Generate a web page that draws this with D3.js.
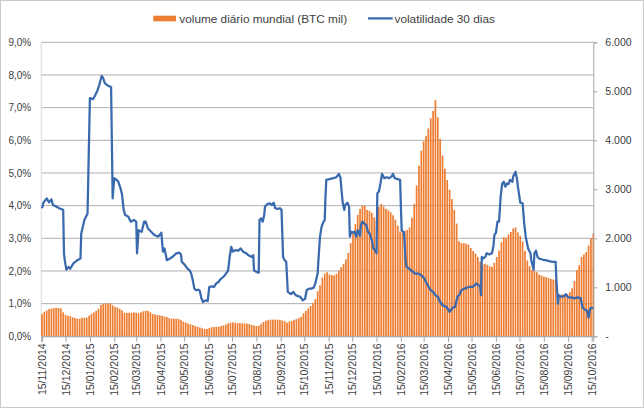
<!DOCTYPE html>
<html><head><meta charset="utf-8">
<script src="https://cdn.jsdelivr.net/npm/d3@7"></script>
<style>
body{margin:0;background:#fff}
svg{display:block}
text{font-family:"Liberation Sans",Arial,sans-serif;fill:#404040}
</style>
</head><body>
<svg id="chart" width="644" height="408"></svg>
<script>
// ---------------- data ----------------
const startDate = "15/11/2014";          // first day of the series
const volumeStepDays = 3;                 // volume sampled every 3rd day
const seriesNames = ["volume diário mundial (BTC mil)", "volatilidade 30 dias"];

// daily world volume (BTC mil), one value per 3 days from 15/11/2014
const volumeValues = [
  450,500,530,555,566,575,580,580,570,490,
  440,420,410,390,375,360,355,380,380,380,
  420,460,490,520,560,640,665,670,670,670,
  635,600,585,560,530,480,480,480,480,490,
  480,470,490,510,520,520,490,455,445,435,
  430,415,405,395,370,360,360,358,355,330,
  300,280,260,245,230,210,195,180,165,150,
  150,170,185,190,190,195,210,225,240,265,
  280,285,275,270,270,265,263,260,250,235,
  220,210,215,250,290,320,330,340,340,340,
  340,335,325,310,280,300,310,335,350,370,
  400,470,520,570,620,680,760,920,1040,1200,
  1280,1310,1260,1250,1240,1280,1340,1410,1480,1570,
  1700,1900,2090,2290,2480,2600,2670,2660,2580,2560,
  2520,2430,2360,2640,2700,2650,2600,2570,2530,2470,
  2380,2260,2140,2120,2150,2170,2220,2420,2700,3080,
  3480,3790,3980,4090,4240,4450,4600,4820,4470,4030,
  3690,3420,3190,2990,2800,2580,2300,1940,1900,1900,
  1890,1870,1800,1740,1690,1620,1520,1470,1480,1460,
  1430,1420,1500,1620,1750,1920,2020,2010,2080,2130,
  2200,2220,2120,2050,1930,1740,1550,1430,1350,1330,
  1310,1260,1240,1220,1210,1190,1170,1160,1150,870,
  840,860,850,860,900,980,1130,1350,1450,1620,
  1670,1720,1850,2000,2100
];

// 30-day volatility (%) : day offset from 15/11/2014 and value
const volatDays = [
  0,2,6,9,12,14,18,22,27,28,
  29,31,34,36,40,45,49,50,54,58,
  61,65,67,71,73,76,78,80,84,88,
  90,92,95,97,100,102,104,106,110,113,
  117,120,121,123,127,130,132,135,139,143,
  148,152,154,156,159,163,167,171,175,177,
  178,182,185,188,190,192,194,196,199,201,
  203,205,208,211,213,216,219,222,225,227,
  230,233,237,239,241,243,246,250,253,256,
  260,263,267,269,270,273,276,277,279,281,
  283,284,287,290,293,295,297,300,303,305,
  307,309,311,313,317,320,323,326,329,332,
  335,337,340,343,346,348,351,352,354,356,
  358,360,361,362,366,371,375,378,380,381,
  383,385,386,389,391,392,394,396,398,400,
  402,405,406,408,410,413,415,417,420,422,
  424,426,427,429,431,433,436,439,442,445,
  447,449,453,456,457,458,461,463,464,467,
  470,475,479,483,487,488,492,495,498,501,
  504,507,510,513,515,519,522,525,526,529,
  532,534,538,541,544,548,551,553,556,558,
  559,560,562,565,566,570,573,575,576,578,
  580,582,584,586,588,590,592,594,596,599,
  600,603,605,606,609,612,614,616,619,622,
  623,626,627,629,631,633,637,641,646,650,
  654,655,657,658,661,665,667,670,674,678,
  682,686,688,691,694,696,698,700,702
];
const volatPct = [
  3.92,4.10,4.22,4.10,4.19,4.02,3.97,3.92,3.87,2.54,
  2.33,2.04,2.12,2.07,2.23,2.33,2.38,3.15,3.56,3.76,
  7.29,7.26,7.34,7.55,7.70,7.97,7.90,7.75,7.67,7.63,
  4.22,4.84,4.79,4.74,4.53,4.33,3.87,3.71,3.66,3.51,
  3.56,3.51,2.54,3.25,3.20,3.51,3.51,3.30,3.20,3.10,
  3.05,3.17,2.59,2.69,2.33,2.38,2.45,2.54,2.56,2.50,
  2.28,2.18,2.08,2.02,1.92,1.72,1.46,1.41,1.43,1.39,
  1.16,1.05,1.10,1.08,1.51,1.53,1.51,1.62,1.67,1.74,
  1.80,1.87,2.02,2.43,2.74,2.59,2.64,2.62,2.69,2.59,
  2.54,2.48,2.43,2.48,2.02,1.97,1.95,3.56,3.61,3.51,
  3.71,3.97,4.05,4.07,4.02,4.09,3.92,3.90,3.92,3.87,
  2.43,2.33,2.28,1.36,1.29,1.36,1.26,1.23,1.21,1.10,
  1.15,1.41,1.46,1.46,1.49,1.62,1.92,2.33,3.05,3.35,
  3.48,3.56,4.27,4.79,4.81,4.84,4.87,4.97,4.87,4.58,
  4.07,3.87,4.02,4.09,3.97,3.05,3.20,3.17,3.20,3.05,
  3.25,3.07,3.40,3.51,3.46,3.40,3.20,3.15,2.94,2.69,
  2.64,2.54,4.38,4.43,4.68,4.97,4.84,4.87,4.84,4.89,
  4.97,4.84,4.81,4.79,3.97,3.25,3.17,2.33,2.13,2.08,
  2.02,1.92,1.92,1.87,1.77,1.70,1.53,1.41,1.36,1.26,
  1.21,1.05,0.95,0.92,0.90,0.75,0.85,0.90,0.90,1.21,
  1.29,1.41,1.46,1.49,1.51,1.51,1.56,1.62,1.56,1.53,
  1.26,2.43,2.38,2.45,2.54,2.51,2.54,2.79,3.10,3.17,
  3.51,3.51,4.27,4.68,4.73,4.58,4.68,4.66,4.79,4.73,
  4.89,5.04,4.79,4.58,4.09,4.07,3.46,3.05,2.69,2.54,
  2.33,2.04,2.54,2.62,2.43,2.38,2.35,2.33,2.30,2.28,
  2.28,1.72,1.00,1.26,1.21,1.23,1.29,1.19,1.19,1.16,
  1.19,1.16,0.90,0.82,0.78,0.57,0.85,0.87,0.87
];

const xTickLabels = [
  "15/11/2014","15/12/2014","15/01/2015","15/02/2015","15/03/2015","15/04/2015",
  "15/05/2015","15/06/2015","15/07/2015","15/08/2015","15/09/2015","15/10/2015",
  "15/11/2015","15/12/2015","15/01/2016","15/02/2016","15/03/2016","15/04/2016",
  "15/05/2016","15/06/2016","15/07/2016","15/08/2016","15/09/2016","15/10/2016"
];
const leftTicks = [0,1,2,3,4,5,6,7,8,9];
const rightTicks = [0,1000,2000,3000,4000,5000,6000];

// ---------------- drawing ----------------
const svg = d3.select("#chart");
const parse = d3.utcParse("%d/%m/%Y");
const t0 = parse(startDate);
const dayToDate = d => d3.utcDay.offset(t0, d);

const ptBR = d3.formatLocale({decimal:",", thousands:".", grouping:[3], currency:["R$",""]});
const fmtPct = v => ptBR.format(".1f")(v) + "%";
const fmtVol = v => v === 0 ? "-" : ptBR.format(",.0f")(v);

const plotL = 41.2, plotR = 593.3, plotT = 42.3, plotB = 336.3;
const x = d3.scaleUtc().domain([dayToDate(-1), dayToDate(702)]).range([plotL, plotR]);
const yL = d3.scaleLinear().domain([0, 9]).range([plotB, plotT]);
const yR = d3.scaleLinear().domain([0, 6000]).range([plotB, plotT]);

const orange = "#ED7D31", blue = "#3A69AE", gridC = "#A6A6A6";

// outer border
svg.append("rect").attr("x",0.5).attr("y",0.5).attr("width",643).attr("height",407)
  .attr("fill","#fff").attr("stroke","#C9C9C9");

// gridlines (left axis)
svg.append("g").selectAll("line").data(leftTicks).join("line")
  .attr("x1", plotL).attr("x2", plotR)
  .attr("y1", d => yL(d)).attr("y2", d => yL(d))
  .attr("stroke", gridC).attr("stroke-width", 0.9);

// left axis line (faint)
svg.append("line").attr("x1",plotL).attr("x2",plotL).attr("y1",plotT).attr("y2",plotB)
  .attr("stroke","#D9D9D9");

// bars
const volData = volumeValues.map((v,i) => ({date: dayToDate(i*volumeStepDays), v}));
const step = x(dayToDate(volumeStepDays)) - x(dayToDate(0));
const bw = step * 0.72;
svg.append("g").selectAll("rect").data(volData).join("rect")
  .attr("x", d => x(d.date) - bw/2)
  .attr("width", bw)
  .attr("y", d => yR(d.v))
  .attr("height", d => plotB - yR(d.v))
  .attr("fill", orange);

// x axis
const xTicks = xTickLabels.map(parse);
const xAxis = d3.axisBottom(x).tickValues(xTicks).tickSize(5.5).tickFormat(d3.utcFormat("%d/%m/%Y"));
const gx = svg.append("g").attr("transform", `translate(0,${plotB})`).call(xAxis);
gx.select(".domain").attr("stroke", gridC);
gx.selectAll(".tick line").attr("stroke", gridC);
gx.selectAll(".tick text")
  .attr("font-size", 10.5)
  .attr("font-family", '"Liberation Sans",Arial,sans-serif')
  .attr("fill", "#404040")
  .attr("text-anchor", "end")
  .attr("transform", "translate(0,7) rotate(-90)")
  .attr("x", 0).attr("y", 0).attr("dy", "0.35em");

// left axis
const gl = svg.append("g").attr("transform", `translate(${plotL},0)`)
  .call(d3.axisLeft(yL).tickValues(leftTicks).tickSize(0).tickPadding(10).tickFormat(fmtPct));
gl.select(".domain").remove();
gl.selectAll(".tick text").attr("font-size", 10).attr("fill","#404040")
  .attr("font-family", '"Liberation Sans",Arial,sans-serif');

// right axis
const gr = svg.append("g").attr("transform", `translate(${plotR},0)`)
  .call(d3.axisRight(yR).tickValues(rightTicks).tickSize(4).tickPadding(8).tickFormat(fmtVol));
gr.select(".domain").attr("stroke", gridC);
gr.selectAll(".tick line").attr("stroke", gridC);
gr.selectAll(".tick text").attr("font-size", 10.5).attr("fill","#404040")
  .attr("font-family", '"Liberation Sans",Arial,sans-serif');

// volatility line
const volat = volatDays.map((d,i) => ({date: dayToDate(d), v: volatPct[i]}));
svg.append("path").datum(volat)
  .attr("fill","none").attr("stroke", blue).attr("stroke-width", 2.25)
  .attr("stroke-linejoin","round")
  .attr("d", d3.line().x(d => x(d.date)).y(d => yL(d.v)));

// legend
const lg = svg.append("g");
lg.append("rect").attr("x",153.3).attr("y",15.7).attr("width",22.7).attr("height",5.6).attr("fill",orange);
lg.append("text").attr("x",179.3).attr("y",22.6).attr("font-size",11.8).text(seriesNames[0]);
lg.append("line").attr("x1",368).attr("x2",392.7).attr("y1",18.4).attr("y2",18.4)
  .attr("stroke",blue).attr("stroke-width",2.25);
lg.append("text").attr("x",394.5).attr("y",22.6).attr("font-size",11.8).text(seriesNames[1]);
</script>
</body></html>
